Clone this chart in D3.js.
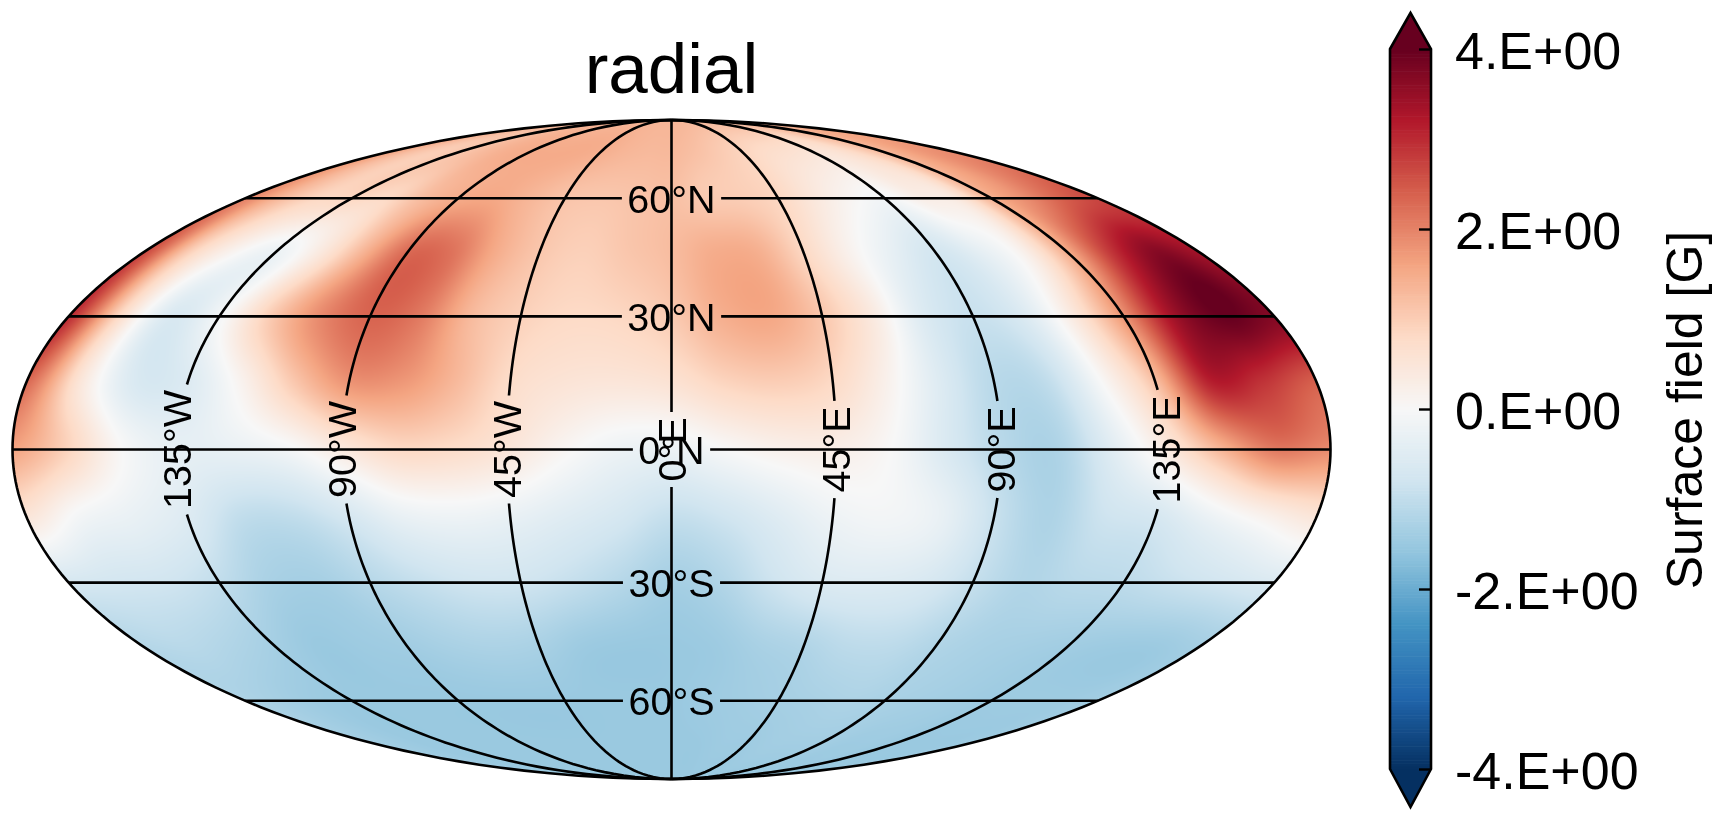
<!DOCTYPE html>
<html>
<head>
<meta charset="utf-8">
<style>
  html, body { margin: 0; padding: 0; background: #fff; overflow: hidden; }
  canvas, svg { position: absolute; left: 0; top: 0; }
  text { font-family: "Liberation Sans", Arial, sans-serif; fill: #000; }
</style>
<script src="https://cdn.jsdelivr.net/npm/d3@7"></script>
</head>
<body>
<canvas id="field" width="1723" height="819"></canvas>
<svg id="chart" width="1723" height="819"></svg>
<script>
// values, one row per latitude, west to east
const lons = d3.range(-180, 181, 15);
const lats = [90, 75, 60, 45, 30, 15, 0, -15, -30, -45, -60, -75, -90];

const n90 = [1.35,1.35,1.35,1.35,1.35,1.35,1.35,1.35,1.35,1.35,1.35,1.35,1.35,1.35,1.35,1.35,1.35,1.35,1.35,1.35,1.35,1.35,1.35,1.35,1.35];
const n75 = [1.6,1.2,1.0,1.1,1.3,1.45,1.5,1.5,1.5,1.45,1.35,1.3,1.3,1.2,1.05,0.9,0.75,0.65,0.55,0.6,0.9,1.3,1.6,1.8,1.9];
const n60 = [2.0,1.3,0.85,0.85,0.8,1.25,1.5,1.55,1.35,1.15,1.1,1.15,1.2,1.05,1.0,0.85,0.45,0.1,-0.1,0.25,0.4,1.4,1.9,2.4,2.7];
const n45 = [2.7,1.0,0.1,-0.25,0.4,1.4,2.3,2.2,1.5,1.1,0.95,1.1,1.25,1.5,1.45,0.85,0.2,-0.35,-0.75,-0.4,0.2,1.5,2.9,3.7,3.4];
const n30 = [3.0,0.8,-0.6,-0.1,1.0,1.9,2.35,2.1,1.3,0.95,0.8,0.85,1.05,1.45,1.55,1.1,0.4,-0.55,-0.9,-0.6,0.4,1.8,3.4,4.0,3.7];
const n15 = [2.3,0.5,-0.6,-0.55,0.15,1.1,1.8,1.75,1.3,0.75,0.55,0.5,0.6,0.9,1.0,0.8,0.2,-0.55,-1.1,-1.0,0.0,1.2,3.1,2.9,2.4];
const eq  = [1.6,0.9,0.0,-0.35,-0.3,-0.1,0.4,0.8,0.75,0.5,0.1,-0.2,-0.25,0.0,0.2,0.25,0.0,-0.6,-1.1,-1.25,-0.5,0.35,1.35,2.1,1.9];
const s15 = [0.5,-0.1,-0.3,-0.55,-1.0,-1.0,-0.7,-0.3,-0.2,-0.3,-0.5,-0.7,-0.95,-0.8,-0.5,-0.2,-0.1,-0.3,-0.9,-1.25,-0.85,-0.7,-0.25,0.15,0.5];
const s30 = [-0.7,-0.75,-0.8,-1.0,-1.3,-1.35,-1.15,-0.95,-0.8,-0.8,-0.95,-1.15,-1.35,-1.2,-0.85,-0.6,-0.55,-0.65,-0.95,-1.2,-1.1,-1.05,-0.9,-0.75,-0.6];
const s45 = [-1.15,-1.1,-1.2,-1.35,-1.5,-1.45,-1.4,-1.3,-1.25,-1.3,-1.45,-1.5,-1.5,-1.45,-1.3,-1.2,-1.05,-1.05,-1.2,-1.3,-1.35,-1.4,-1.45,-1.45,-1.35];
const s60 = [-1.25,-1.35,-1.45,-1.5,-1.5,-1.5,-1.5,-1.5,-1.5,-1.5,-1.5,-1.5,-1.5,-1.45,-1.4,-1.35,-1.3,-1.25,-1.3,-1.35,-1.4,-1.45,-1.45,-1.45,-1.4];
const s75 = [-1.4,-1.45,-1.5,-1.5,-1.5,-1.5,-1.5,-1.5,-1.5,-1.5,-1.5,-1.5,-1.5,-1.5,-1.45,-1.45,-1.4,-1.4,-1.4,-1.45,-1.45,-1.5,-1.5,-1.5,-1.45];
const s90 = [-1.5,-1.5,-1.5,-1.5,-1.5,-1.5,-1.5,-1.5,-1.5,-1.5,-1.5,-1.5,-1.5,-1.5,-1.5,-1.5,-1.5,-1.5,-1.5,-1.5,-1.5,-1.5,-1.5,-1.5,-1.5];
const grid = [n90, n75, n60, n45, n30, n15, eq, s15, s30, s45, s60, s75, s90];

const gridLons = [-135, -90, -45, 0, 45, 90, 135];
const gridLats = [60, 30, 0, -30, -60];
const lonLabels = ["135°W", "90°W", "45°W", "0°E", "45°E", "90°E", "135°E"];
const latLabels = ["60°N", "30°N", "0°N", "30°S", "60°S"];
const cbarTicks = [-4, -2, 0, 2, 4];
const cbarLabels = ["-4.E+00", "-2.E+00", "0.E+00", "2.E+00", "4.E+00"];

// matplotlib RdBu_r
const rdbu = ["#053061","#2166ac","#4393c3","#92c5de","#d1e5f0","#f7f7f7","#fddbc7","#f4a582","#d6604d","#b2182b","#67001f"];
const color = d3.scaleLinear().domain(d3.range(-4, 4.01, 0.8)).range(rdbu).clamp(true);

// d3 core has no Mollweide
function mollweideRaw(lam, phi) {
  let t = phi;
  const k = Math.PI * Math.sin(phi);
  if (Math.abs(phi) > Math.PI / 2 - 1e-6) t = Math.sign(phi) * Math.PI / 2;
  else for (let i = 0; i < 30; i++) {
    const d = (2 * t + Math.sin(2 * t) - k) / (2 + 2 * Math.cos(2 * t));
    t -= d;
    if (Math.abs(d) < 1e-9) break;
  }
  return [2 * Math.SQRT2 / Math.PI * lam * Math.cos(t), Math.SQRT2 * Math.sin(t)];
}
mollweideRaw.invert = function(x, y) {
  const t = Math.asin(y / Math.SQRT2);
  return [Math.PI * x / (2 * Math.SQRT2 * Math.cos(t)), Math.asin((2 * t + Math.sin(2 * t)) / Math.PI)];
};

const cx = 671.5, cy = 449.5, rx = 659;
const projection = d3.geoProjection(mollweideRaw)
    .scale(rx / (2 * Math.SQRT2))
    .translate([cx, cy])
    .precision(0.1);
const path = d3.geoPath(projection);

// smooth lookup in the grid, only for painting the pixels between values
function cr(a, b, c, d, t) {
  return b + 0.5 * t * (c - a + t * (2 * a - 5 * b + 4 * c - d + t * (3 * (b - c) + d - a)));
}
function fieldAt(lon, lat) {
  const u = Math.max(0, Math.min(lons.length - 1.0001, (lon + 180) / 15));
  const v = Math.max(0, Math.min(lats.length - 1.0001, (90 - lat) / 15));
  const i = Math.floor(u), j = Math.floor(v);
  const rowAt = r => {
    const row = grid[Math.max(0, Math.min(lats.length - 1, r))];
    const g = q => row[Math.max(0, Math.min(lons.length - 1, q))];
    return cr(g(i - 1), g(i), g(i + 1), g(i + 2), u - i);
  };
  return cr(rowAt(j - 1), rowAt(j), rowAt(j + 1), rowAt(j + 2), v - j);
}

const ctx = document.getElementById("field").getContext("2d");
const img = ctx.createImageData(1723, 819);
for (let y = 120; y < 780; y++) {
  for (let x = 12; x < 1332; x++) {
    const dx = (x + 0.5 - cx) / rx, dy = (y + 0.5 - cy) / (rx / 2);
    if (dx * dx + dy * dy > 1) continue;
    const ll = projection.invert([x + 0.5, y + 0.5]);
    const c = d3.rgb(color(fieldAt(ll[0], ll[1])));
    const o = (y * 1723 + x) * 4;
    img.data[o] = c.r; img.data[o + 1] = c.g; img.data[o + 2] = c.b; img.data[o + 3] = 255;
  }
}
ctx.putImageData(img, 0, 0);

const svg = d3.select("#chart");
const labelSize = 39.5;
const labelDy = labelSize * 0.36;
const gap = 5.5;

const gridG = svg.append("g").attr("fill", "none").attr("stroke", "#000").attr("stroke-width", 2.6);
const labelG = svg.append("g").attr("font-size", labelSize).attr("text-anchor", "middle");

// parallels: straight in this projection, broken around their label
gridLats.forEach((lat, i) => {
  const y = projection([0, lat])[1];
  const t = labelG.append("text")
      .attr("x", cx).attr("y", y + labelDy)
      .text(latLabels[i]);
  const half = t.node().getComputedTextLength() / 2 + gap;
  const west = projection.invert([cx - half, y])[0];
  const east = projection.invert([cx + half, y])[0];
  const n = 60;
  const seg = (a, b) => d3.range(n + 1).map(k => [a + (b - a) * k / n, lat]);
  gridG.append("path").datum({type: "MultiLineString", coordinates: [seg(-179.99, west), seg(east, 179.99)]})
      .attr("d", path);
});

// meridians, broken around the rotated label on the equator
gridLons.forEach((lon, i) => {
  const p = projection([lon, 0]);
  const t = labelG.append("text")
      .attr("transform", `translate(${p[0]},${p[1]}) rotate(-90)`)
      .attr("y", labelDy)
      .text(lonLabels[i]);
  const half = t.node().getComputedTextLength() / 2 + gap;
  const top = projection.invert([cx, cy - half])[1];
  const bottom = projection.invert([cx, cy + half])[1];
  const n = 80;
  const seg = (a, b) => d3.range(n + 1).map(k => [lon, a + (b - a) * k / n]);
  gridG.append("path").datum({type: "MultiLineString", coordinates: [seg(90, top), seg(bottom, -90)]})
      .attr("d", path);
});

// map outline
svg.append("path").datum({type: "Sphere"})
    .attr("fill", "none").attr("stroke", "#000").attr("stroke-width", 2.6)
    .attr("d", path);

svg.append("text")
    .attr("x", cx).attr("y", 93)
    .attr("text-anchor", "middle").attr("font-size", 71)
    .text("radial");

// colour bar with extend arrows
const barX = 1390, barW = 41, barTop = 49, barBottom = 769, tipTop = 13, tipBottom = 807;
const cbarY = d3.scaleLinear().domain([-4, 4]).range([barBottom, barTop]);
const bar = svg.append("g");
const levels = d3.range(256).map(i => -4 + 8 * (i + 0.5) / 256);
bar.selectAll("rect").data(levels).join("rect")
    .attr("x", barX).attr("width", barW)
    .attr("y", d => cbarY(d + 4 / 256) - 0.3)
    .attr("height", (barBottom - barTop) / 256 + 0.6)
    .attr("fill", d => color(d));
bar.append("path").attr("fill", rdbu[10])
    .attr("d", `M${barX},${barTop}L${barX + barW / 2},${tipTop}L${barX + barW},${barTop}Z`);
bar.append("path").attr("fill", rdbu[0])
    .attr("d", `M${barX},${barBottom}L${barX + barW / 2},${tipBottom}L${barX + barW},${barBottom}Z`);
bar.append("path")
    .attr("fill", "none").attr("stroke", "#000").attr("stroke-width", 2.6)
    .attr("d", `M${barX},${barTop}L${barX + barW / 2},${tipTop}L${barX + barW},${barTop}L${barX + barW},${barBottom}L${barX + barW / 2},${tipBottom}L${barX},${barBottom}Z`);

const axis = d3.axisRight(cbarY)
    .tickValues(cbarTicks)
    .tickSize(-12)
    .tickPadding(24)
    .tickFormat((d, i) => cbarLabels[i]);
svg.append("g")
    .attr("transform", `translate(${barX + barW},0)`)
    .call(axis)
    .call(g => g.select(".domain").remove())
    .call(g => g.selectAll("line").attr("stroke", "#000").attr("stroke-width", 2.4))
    .call(g => g.selectAll("text").attr("font-size", 52).attr("font-family", "Liberation Sans").attr("fill", "#000").attr("dy", "0.37em"));

svg.append("text")
    .attr("transform", "translate(1702,410) rotate(-90)")
    .attr("text-anchor", "middle").attr("font-size", 50)
    .text("Surface field [G]");
</script>
</body>
</html>
